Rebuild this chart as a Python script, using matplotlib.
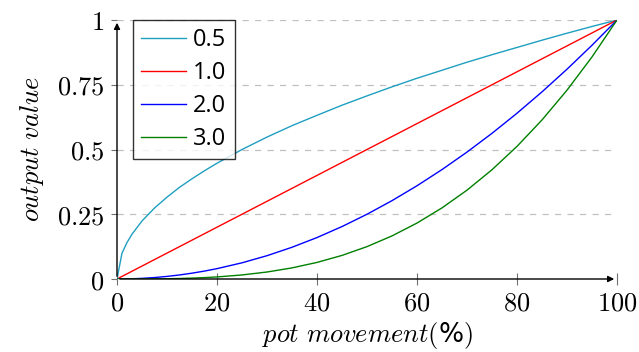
import matplotlib
matplotlib.use("Agg")
import matplotlib.pyplot as plt

plt.rcParams['mathtext.fontset'] = 'cm'

x = [0, 1, 2, 3, 5, 7.5, 10, 12.5, 15, 17.5, 20, 25, 30, 35, 40, 45, 50, 55, 60, 65, 70, 75, 80, 85, 90, 95, 100]
y_05 = [0, 0.10, 0.141, 0.173, 0.224, 0.274, 0.316, 0.354, 0.387, 0.418, 0.447, 0.5, 0.548, 0.592, 0.632,
        0.671, 0.707, 0.742, 0.775, 0.806, 0.837, 0.866, 0.894, 0.922, 0.949, 0.975, 1]
y_10 = [0, 0.01, 0.02, 0.03, 0.05, 0.075, 0.1, 0.125, 0.15, 0.175, 0.2, 0.25, 0.3, 0.35, 0.4, 0.45,
        0.5, 0.55, 0.6, 0.65, 0.7, 0.75, 0.8, 0.85, 0.9, 0.95, 1]
y_20 = [0, 0.0001, 0.0004, 0.0009, 0.0025, 0.0056, 0.01, 0.0156, 0.0225, 0.0306, 0.04, 0.0625, 0.09,
        0.1225, 0.16, 0.2025, 0.25, 0.3025, 0.36, 0.4225, 0.49, 0.5625, 0.64, 0.7225, 0.81, 0.9025, 1]
y_30 = [0, 0, 0, 0, 0.0001, 0.0004, 0.001, 0.002, 0.0034, 0.0054, 0.008, 0.0156, 0.027, 0.0429, 0.064,
        0.0911, 0.125, 0.1664, 0.216, 0.2746, 0.343, 0.4219, 0.512, 0.6141, 0.729, 0.8574, 1]

labels = ['0.5', '1.0', '2.0', '3.0']
colors = ['#1f9fc0', '#ff0000', '#0000ff', '#008000']
xticks = [0, 20, 40, 60, 80, 100]
yticks = [0, 0.25, 0.5, 0.75, 1]
ytick_labels = ['$0$', '$0.25$', '$0.5$', '$0.75$', '$1$']

fig = plt.figure(figsize=(6.39, 3.52), dpi=100)
ax = fig.add_axes([117 / 639, 1 - 279 / 352, 500 / 639, 259 / 352])

for ys, lab, c in zip([y_05, y_10, y_20, y_30], labels, colors):
    ax.plot(x, ys, color=c, lw=1.0, label=lab, zorder=3)

ax.set_xlim(0, 100)
ax.set_ylim(0, 1)
for s in ax.spines.values():
    s.set_visible(False)

# grid
for yv in yticks[1:]:
    ax.axhline(yv, color='#c0c0c0', lw=0.9, ls=(0, (5, 5)), zorder=1)

# axis arrows
ax.annotate('', xy=(1.0, 0), xytext=(0, 0), xycoords='axes fraction',
            arrowprops=dict(arrowstyle='-|>', color='black', lw=1.0, mutation_scale=9), zorder=4)
ax.annotate('', xy=(0, 1.0), xytext=(0, 0), xycoords='axes fraction',
            arrowprops=dict(arrowstyle='-|>', color='black', lw=1.0, mutation_scale=9), zorder=4)

ax.set_xticks(xticks)
ax.set_xticklabels(['$%d$' % v for v in xticks], fontsize=19)
ax.set_yticks(yticks)
ax.set_yticklabels(ytick_labels, fontsize=19)
ax.tick_params(axis='x', direction='inout', length=8, width=0.8, color='#707070', pad=4)
ax.tick_params(axis='y', direction='out', length=4, width=0.8, color='#707070', pad=5)

ax.set_xlabel(r'$pot\ movement($' + '%' + r'$)$', fontsize=19, labelpad=3)
ax.set_ylabel(r'$output\ value$', fontsize=19, labelpad=8)

leg = ax.legend(loc='upper left', bbox_to_anchor=(16 / 500, 1.0),
                prop={'family': 'Open Sans', 'size': 17}, frameon=True, fancybox=False,
                handlelength=1.9, handletextpad=0.3, labelspacing=0.38,
                borderpad=0.35, borderaxespad=0.0)
leg.get_frame().set_edgecolor('black')
leg.get_frame().set_linewidth(1.0)
leg.set_zorder(5)

fig.savefig('out.png', dpi=100)
